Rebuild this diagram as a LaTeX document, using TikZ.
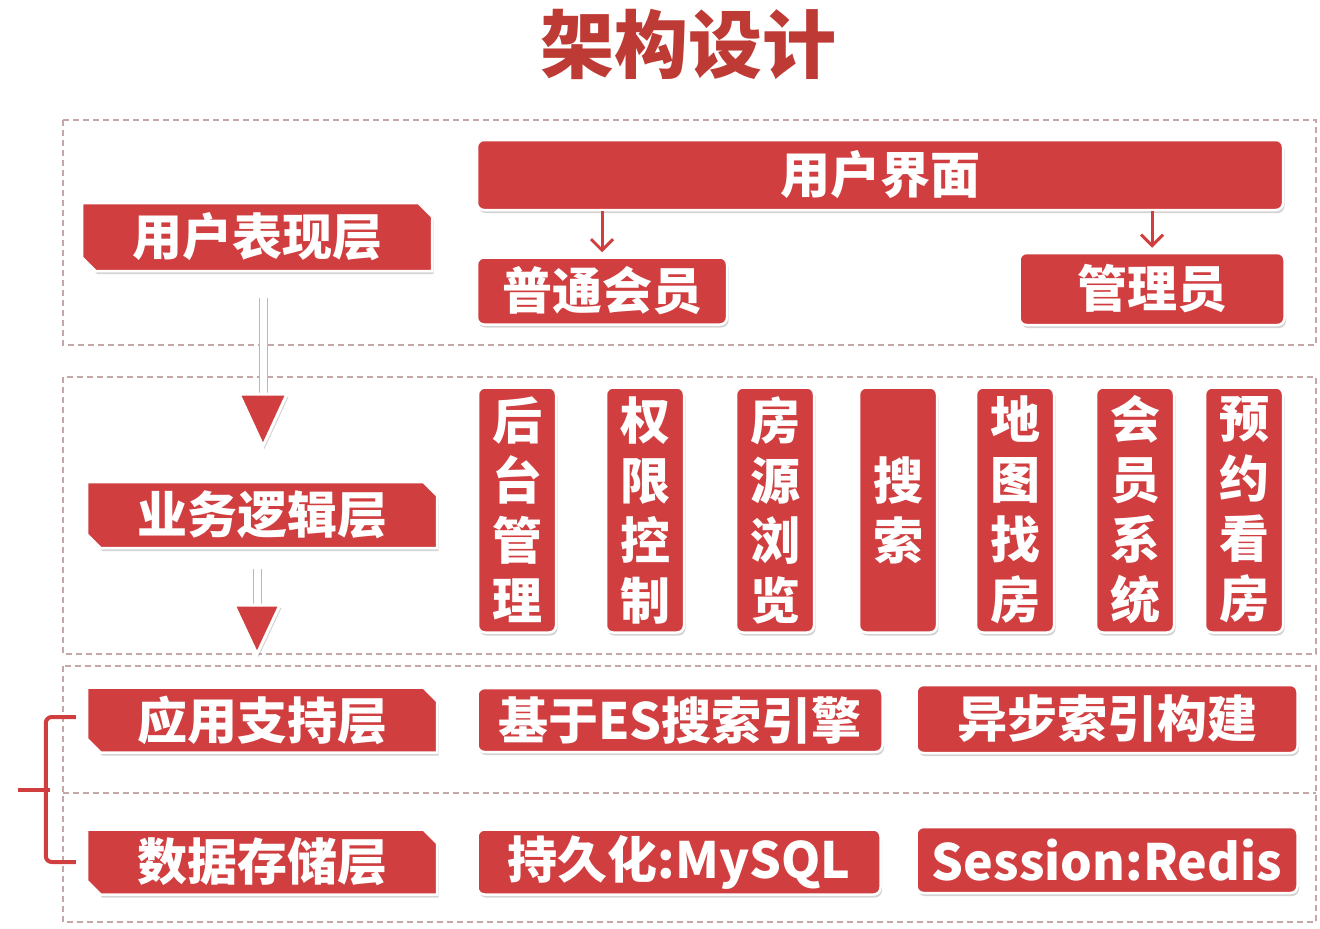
\documentclass[tikz,border=0pt]{standalone}
\usepackage{fontspec}
\setmainfont{Noto Sans CJK SC}
\usetikzlibrary{shapes.misc,shadows,arrows.meta,calc}
\definecolor{boxred}{RGB}{208,62,64}
\definecolor{titlered}{RGB}{190,58,52}
\definecolor{dashc}{RGB}{196,168,168}
\definecolor{stemc}{RGB}{185,185,185}
\tikzset{
  shad/.style={drop shadow={shadow xshift=1.5pt,shadow yshift=-3pt,opacity=.28,fill=black!60}},
  redbox/.style={fill=boxred, draw=white, line width=2.5pt, rounded corners=7pt, text=white,
    inner sep=0pt, shad, font=\bfseries\fontsize{50}{58}\selectfont},
  vbox/.style={redbox, minimum width=78pt, minimum height=245pt, align=center,
    font=\bfseries\fontsize{50}{60}\selectfont},
  layerlbl/.style={chamfered rectangle, chamfered rectangle corners={north east,south west},
    chamfered rectangle xsep=10pt, chamfered rectangle angle=45, fill=boxred, draw=white, line width=2.5pt,
    text=white, inner sep=0pt, minimum width=350pt, shad, font=\bfseries\fontsize{50}{58}\selectfont},
  frame/.style={draw=dashc, line width=1.4pt, dash pattern=on 6pt off 4pt},
  memarrow/.style={draw=boxred, line width=3pt, -{Straight Barb[length=11pt,width=22pt,line width=3pt]}, shorten >=4pt},
  stem/.style={draw=stemc, line width=1pt, double=white, double distance=7pt},
  tri/.style={fill=boxred, draw=white, line width=3pt, line join=miter, shad},
  brace/.style={draw=boxred, line width=4pt, rounded corners=6pt},
}
\begin{document}
\begin{tikzpicture}[x=1pt,y=-1pt]
\fill[white] (0,0) rectangle (1320,929);
\useasboundingbox (0,0) rectangle (1320,929);

% title
\node[text=titlered, font=\bfseries\fontsize{74}{80}\selectfont] (title) at (688,45) {架构设计};

% dashed frames
\draw[frame] (63,120) rectangle (1316,345);
\draw[frame] (63,377) rectangle (1316,654);
\draw[frame] (63,666) rectangle (1316,922);
\draw[frame] (63,793) -- (1316,793);

% layer labels
\node[layerlbl, minimum height=68pt] (L1) at (257,237) {用户表现层};
\node[layerlbl, minimum height=66pt] (L2) at (262,515) {业务逻辑层};
\node[layerlbl, minimum height=65pt] (L3) at (262,720) {应用支持层};
\node[layerlbl, minimum height=65pt] (L4) at (262,862) {数据存储层};

% user interface layer
\node[redbox, minimum width=806pt, minimum height=70pt] (UI) at (880,175) {用户界面};
\node[redbox, minimum width=250pt, minimum height=67pt] (M1) at (602,291) {普通会员};
\node[redbox, minimum width=265pt, minimum height=72pt] (M2) at (1152,289) {管理员};
\draw[memarrow] (M1.north |- UI.south) -- (M1.north);
\draw[memarrow] (M2.north |- UI.south) -- (M2.north);

% business logic layer
\node[vbox] (B1) at (517,510) {后\\台\\管\\理};
\node[vbox] (B2) at (645,510) {权\\限\\控\\制};
\node[vbox] (B3) at (775,510) {房\\源\\浏\\览};
\node[vbox] (B4) at (898,510) {搜\\索};
\node[vbox] (B5) at (1015,510) {地\\图\\找\\房};
\node[vbox] (B6) at (1135,510) {会\\员\\系\\统};
\node[vbox] (B7) at (1244,510) {预\\约\\看\\房};

% application support layer
\node[redbox, minimum width=405pt, minimum height=64pt] (S1) at (680,720) {基于ES搜索引擎};
\node[redbox, minimum width=381pt, minimum height=68pt] (S2) at (1107,719) {异步索引构建};

% data storage layer
\node[redbox, minimum width=403pt, minimum height=65pt] (D1) at (679,862) {持久化:MySQL};
\node[redbox, minimum width=381pt, minimum height=66pt] (D2) at (1107,860) {Session:Redis};

% flow arrows between layers
\coordinate (T1) at (263,394);
\coordinate (T2) at (257,605);
\draw[stem, shorten <=26pt] (L1.south -| T1) -- (T1);
\fill[tri] ($(T1)+(-24,0)$) -- ($(T1)+(24,0)$) -- ($(T1)+(0,52)$) -- cycle;
\draw[stem, shorten <=20pt] (L2.south -| T2) -- (T2);
\fill[tri] ($(T2)+(-23,0)$) -- ($(T2)+(23,0)$) -- ($(T2)+(0,49)$) -- cycle;

% brace
\coordinate (BR) at (18,790);
\draw[brace] ($(L3.west)+(-10,-3)$) -- ($(L3.west)+(-40,-3)$) -- ($(L4.west)+(-40,0)$) -- ($(L4.west)+(-10,0)$);
\draw[brace, rounded corners=0pt] (BR) -- ++(32,0);
\end{tikzpicture}
\end{document}
